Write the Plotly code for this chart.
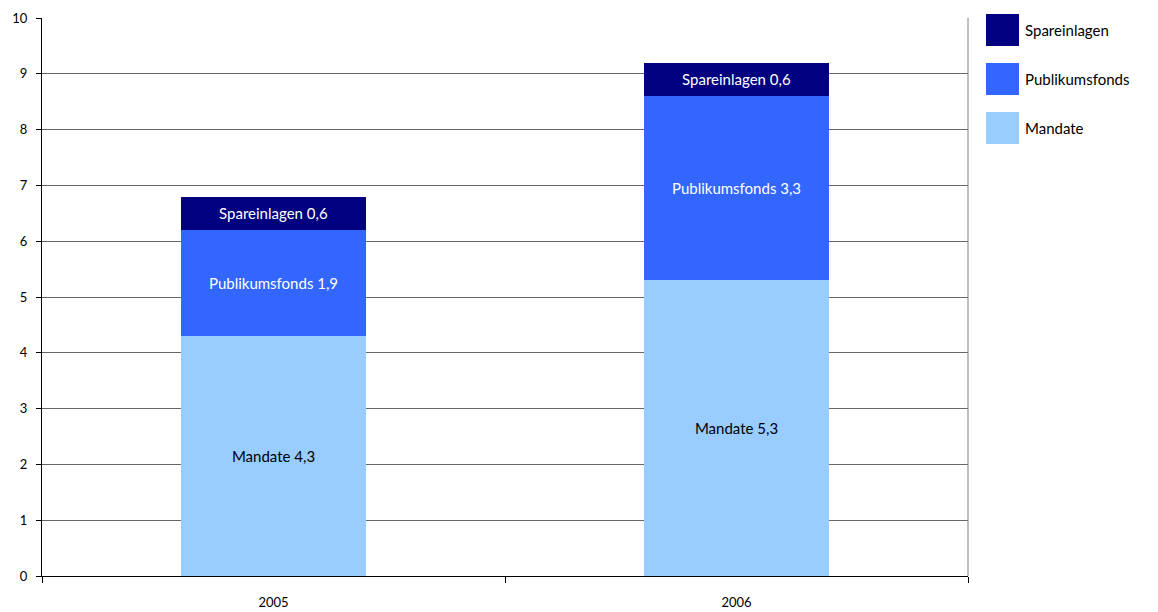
import plotly.graph_objects as go

years = ["2005", "2006"]
mandate = [4.3, 5.3]
publikumsfonds = [1.9, 3.3]
spareinlagen = [0.6, 0.6]
series_names = ["Mandate", "Publikumsfonds", "Spareinlagen"]
colors = {"Mandate": "#99CCFF", "Publikumsfonds": "#3366FF", "Spareinlagen": "#000080"}
text_colors = {"Mandate": "#000000", "Publikumsfonds": "#FFFFFF", "Spareinlagen": "#FFFFFF"}
y_ticks = list(range(0, 11))

FONT = "Lato"

def fmt(v):
    return f"{v:.1f}".replace(".", ",")

fig = go.Figure()
for name, vals in zip(series_names, [mandate, publikumsfonds, spareinlagen]):
    fig.add_trace(go.Bar(
        x=years, y=vals, name=name,
        marker=dict(color=colors[name], line=dict(width=0)),
        text=[f"{name} {fmt(v)}" for v in vals],
        textposition="inside", insidetextanchor="middle",
        textfont=dict(family=FONT, size=15, color=text_colors[name]),
        constraintext="none",
        showlegend=False, hoverinfo="skip",
    ))

# manual legend (top to bottom: Spareinlagen, Publikumsfonds, Mandate)
legend_order = ["Spareinlagen", "Publikumsfonds", "Mandate"]
for i, name in enumerate(legend_order):
    yc = 30 + i * 49
    fig.add_shape(type="rect", xref="paper", yref="paper",
                  x0=(986 - 42) / 926, x1=(1019 - 42) / 926,
                  y0=(576 - (yc + 16)) / 558, y1=(576 - (yc - 16)) / 558,
                  fillcolor=colors[name], line=dict(width=0))
    fig.add_annotation(xref="paper", yref="paper", x=(1023 - 42) / 926,
                       y=(576 - yc) / 558, text=name, showarrow=False,
                       xanchor="left", yanchor="middle",
                       font=dict(family=FONT, size=15, color="#000000"))

# right border
fig.add_shape(type="line", xref="paper", yref="paper", x0=1, x1=1, y0=0, y1=1,
              line=dict(color="#808080", width=1))

fig.update_layout(
    barmode="stack", bargap=0.6,
    width=1158, height=612,
    margin=dict(l=42, r=190, t=18, b=36),
    plot_bgcolor="white", paper_bgcolor="white",
    font=dict(family=FONT, size=13, color="#000000"),
    xaxis=dict(
        type="category", showline=True, linecolor="#000000", linewidth=1,
        ticks="outside", tickson="boundaries", ticklen=6, tickcolor="#000000",
        ticklabelstandoff=14, showgrid=False, automargin=False,
        tickfont=dict(family=FONT, size=13),
    ),
    yaxis=dict(
        range=[0, 10], tickvals=y_ticks, showline=True, linecolor="#000000",
        linewidth=1, ticks="outside", ticklen=5, tickcolor="#000000",
        showgrid=True, gridcolor="#666666", gridwidth=1, zeroline=False,
        automargin=False,
        ticklabelstandoff=6, tickfont=dict(family=FONT, size=13),
    ),
)

fig.write_html("out.html")
